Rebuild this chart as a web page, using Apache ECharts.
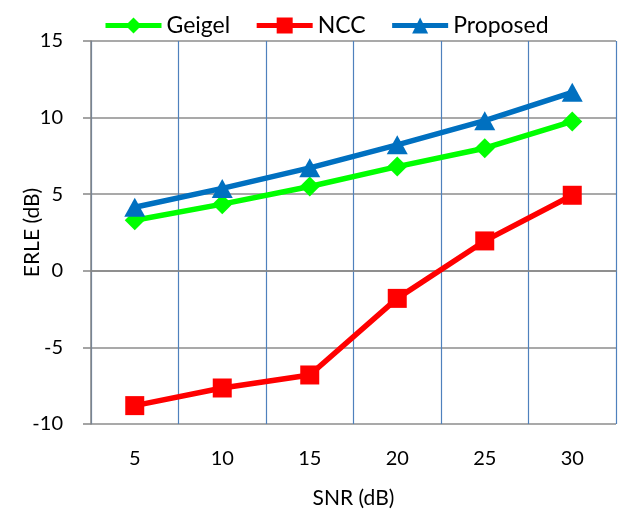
<!DOCTYPE html>
<html>
<head>
<meta charset="utf-8">
<script src="https://cdn.jsdelivr.net/npm/echarts@6/dist/echarts.min.js"></script>
<style>
html,body{margin:0;padding:0;background:#fff;}
#chart{width:618px;height:512px;}
</style>
</head>
<body>
<div id="chart"></div>
<script>
const categories = ['5', '10', '15', '20', '25', '30'];
const geigel = [3.3, 4.35, 5.5, 6.8, 8.0, 9.75];
const ncc = [-8.8, -7.65, -6.8, -1.8, 1.95, 4.93];
const proposed = [4.15, 5.38, 6.72, 8.22, 9.8, 11.65];
const yTicks = [-10, -5, 0, 5, 10, 15];

const FONT = 'Lato';
const chart = echarts.init(document.getElementById('chart'), null, {renderer: 'canvas'});

function lineSeries(name, data, color, symbol, size) {
  return {
    name: name,
    type: 'line',
    data: data,
    symbol: symbol,
    symbolSize: size,
    showSymbol: true,
    lineStyle: {color: color, width: 5.5},
    itemStyle: {color: color},
    emphasis: {disabled: true},
    animation: false
  };
}

chart.setOption({
  animation: false,
  backgroundColor: '#ffffff',
  textStyle: {fontFamily: FONT},
  legend: {
    left: 98,
    top: 9,
    itemWidth: 56,
    itemHeight: 20,
    itemGap: 24,
    lineStyle: {width: 5},
    textStyle: {fontFamily: FONT, fontSize: 23, color: '#000'},
    data: ['Geigel', 'NCC', 'Proposed']
  },
  grid: {left: 91, right: 2, top: 41, bottom: 88, containLabel: false, outerBoundsMode: 'none'},
  xAxis: {
    type: 'category',
    data: categories,
    boundaryGap: true,
    name: 'SNR (dB)',
    nameLocation: 'middle',
    nameGap: 64,
    nameMoveOverlap: false,
    nameTextStyle: {fontFamily: FONT, fontSize: 21, color: '#000'},
    axisLine: {show: true, lineStyle: {color: '#868686', width: 1.5}},
    axisTick: {show: false},
    axisLabel: {fontFamily: FONT, fontSize: 20, color: '#000', margin: 25},
    splitLine: {show: true, interval: 0, lineStyle: {color: '#4f81bd', width: 1.2}}
  },
  yAxis: {
    type: 'value',
    min: yTicks[0],
    max: yTicks[yTicks.length - 1],
    interval: 5,
    name: 'ERLE (dB)',
    nameLocation: 'middle',
    nameGap: 48,
    nameMoveOverlap: false,
    nameTextStyle: {fontFamily: FONT, fontSize: 21, color: '#000'},
    axisLine: {show: true, lineStyle: {color: '#868686', width: 1.5}},
    axisTick: {show: true, inside: false, length: 8, lineStyle: {color: '#868686', width: 1.5}},
    axisLabel: {fontFamily: FONT, fontSize: 20, color: '#000', margin: 28},
    splitLine: {show: true, lineStyle: {color: '#8c8c8c', width: 1.5}}
  },
  series: [
    lineSeries('Geigel', geigel, '#00ff00', 'diamond', 20),
    lineSeries('NCC', ncc, '#ff0000', 'rect', 19),
    lineSeries('Proposed', proposed, '#0070c0', 'triangle', [21, 19])
  ]
});
</script>
</body>
</html>
